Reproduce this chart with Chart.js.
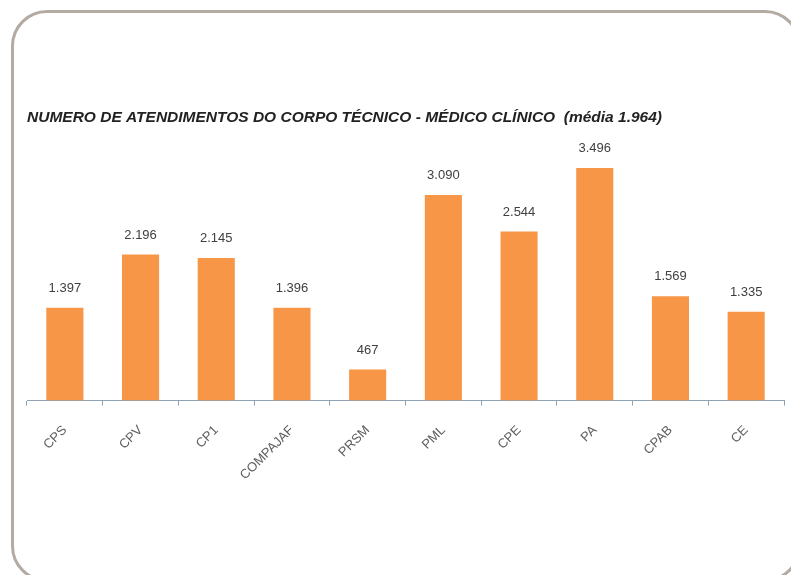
<!DOCTYPE html>
<html>
<head>
<meta charset="utf-8">
<script src="https://cdn.jsdelivr.net/npm/chart.js@4"></script>
<style>
  html, body { margin: 0; padding: 0; background: #fff; overflow: hidden; }
  #wrap { position: relative; width: 791px; height: 575px; overflow: hidden; }
  #frame {
    position: absolute; left: 11px; top: 10px; width: 790px; height: 572px;
    border: 3px solid #b3aaa2; border-radius: 36px; box-sizing: border-box;
  }
  canvas { position: absolute; left: 0; top: 0; }
</style>
</head>
<body>
<div id="wrap">
  <div id="frame"></div>
  <canvas id="chart" width="791" height="575"></canvas>
</div>
<script>
// Atendimentos do corpo técnico - médico clínico
const units  = ['CPS', 'CPV', 'CP1', 'COMPAJAF', 'PRSM', 'PML', 'CPE', 'PA', 'CPAB', 'CE'];
const visits = [1397, 2196, 2145, 1396, 467, 3090, 2544, 3496, 1569, 1335];
const titleText = 'NUMERO DE ATENDIMENTOS DO CORPO TÉCNICO - MÉDICO CLÍNICO  (média 1.964)';

// 1397 -> "1.397"
function fmtBR(v) {
  return String(v).replace(/\B(?=(\d{3})+(?!\d))/g, '.');
}

// --- value labels over bars ---
const barLabels = {
  id: 'barLabels',
  afterDatasetsDraw(chart) {
    const ctx = chart.ctx;
    const meta = chart.getDatasetMeta(0);
    ctx.save();
    ctx.font = '13px "Liberation Sans", Arial, sans-serif';
    ctx.fillStyle = '#404040';
    ctx.textAlign = 'center';
    ctx.textBaseline = 'bottom';
    meta.data.forEach((bar, i) => {
      ctx.fillText(fmtBR(visits[i]), bar.x, bar.y - 13);
    });
    ctx.restore();
  }
};

new Chart(document.getElementById('chart'), {
  type: 'bar',
  data: {
    labels: units,
    datasets: [{
      data: visits,
      backgroundColor: '#f79646',
      barPercentage: 0.49,
      categoryPercentage: 1.0,
    }],
  },
  options: {
    responsive: false,
    animation: false,
    layout: { padding: { left: 27, right: 7, top: 108, bottom: 75 } },
    plugins: {
      legend: { display: false },
      tooltip: { enabled: false },
      title: {
        display: true,
        text: titleText,
        align: 'start',
        color: '#222',
        font: { family: '"Liberation Sans", Arial, sans-serif', size: 15.5, weight: 'bold', style: 'italic' },
        padding: { top: 0, bottom: 8 },
      },
    },
    scales: {
      x: {
        grid: { display: true, drawOnChartArea: false, drawTicks: true, tickLength: 5, color: '#8fa2b6', offset: true },
        border: { display: true, color: '#8fa2b6', width: 1 },
        ticks: {
          color: '#606060',
          font: { family: '"Liberation Sans", Arial, sans-serif', size: 13 },
          minRotation: 45, maxRotation: 45, padding: 17, autoSkip: false,
        },
      },
      y: {
        display: false,
        min: 0, max: 4000,
      },
    },
  },
  plugins: [barLabels],
});
</script>
</body>
</html>
